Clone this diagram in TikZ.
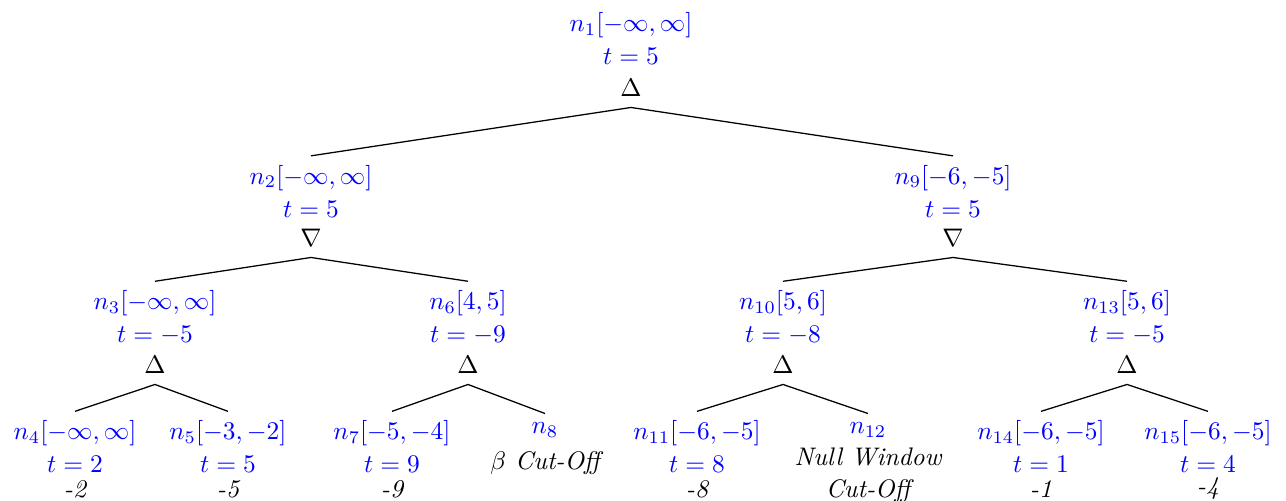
\documentclass[tikz,border=0pt]{standalone}
\usetikzlibrary{positioning}

\begin{document}
\begin{tikzpicture}[
  x=0.3935pt, y=-0.3935pt,
  lbl/.style={text=blue, align=center, font={\fontsize{10}{13}\selectfont}},
  sym/.style={inner sep=4pt, font=\normalsize},
  val/.style={align=center, font={\fontsize{10}{12.5}\selectfont\itshape}},
  line width=0.5pt
]
  \useasboundingbox (0,0) rectangle (1286,501);

  % root
  \node[lbl] (n1) at (631,38.5) {$n_1[-\infty,\infty]$\\$t=5$};
  \node[sym] (s1) at (631,88) {$\Delta$};

  % level 1
  \node[lbl] (n2) at (311,191) {$n_2[-\infty,\infty]$\\$t=5$};
  \node[sym] (s2) at (311,238) {$\nabla$};
  \node[lbl] (n9) at (953,191) {$n_9[-6,-5]$\\$t=5$};
  \node[sym] (s9) at (953,238) {$\nabla$};

  % level 2
  \node[lbl] (n3)  at (155,317.5)  {$n_3[-\infty,\infty]$\\$t=-5$};
  \node[sym] (s3)  at (155,365)    {$\Delta$};
  \node[lbl] (n6)  at (468,317.5)  {$n_6[4,5]$\\$t=-9$};
  \node[sym] (s6)  at (468,365)    {$\Delta$};
  \node[lbl] (n10) at (783,317.5)  {$n_{10}[5,6]$\\$t=-8$};
  \node[sym] (s10) at (783,365)    {$\Delta$};
  \node[lbl] (n13) at (1127,317.5) {$n_{13}[5,6]$\\$t=-5$};
  \node[sym] (s13) at (1127,365)   {$\Delta$};

  % leaves
  \node[lbl] (n4)  at (75,446.5)   {$n_4[-\infty,\infty]$\\$t=2$};
  \node[val] (v4)  at (75,489)     {-2};
  \node[lbl] (n5)  at (228,446.5)  {$n_5[-3,-2]$\\$t=5$};
  \node[val] (v5)  at (228,489)    {-5};
  \node[lbl] (n7)  at (392,446.5)  {$n_7[-5,-4]$\\$t=9$};
  \node[val] (v7)  at (392,489)    {-9};
  \node[lbl] (n8)  at (545,430)    {$n_8$};
  \node[val] (v8)  at (545,463)    {$\beta$ Cut-Off};
  \node[lbl] (n11) at (697,446.5)  {$n_{11}[-6,-5]$\\$t=8$};
  \node[val] (v11) at (697,489)    {-8};
  \node[lbl] (n12) at (868,430)    {$n_{12}$};
  \node[val] (v12) at (868,475)    {Null Window\\Cut-Off};
  \node[lbl] (n14) at (1041,446.5) {$n_{14}[-6,-5]$\\$t=1$};
  \node[val] (v14) at (1041,489)   {-1};
  \node[lbl] (n15) at (1208,446.5) {$n_{15}[-6,-5]$\\$t=4$};
  \node[val] (v15) at (1208,489)   {-4};

  % edges
  \draw (n2.north) -- (s1.south) -- (n9.north);
  \draw (n3.north) -- (s2.south) -- (n6.north);
  \draw (n10.north) -- (s9.south) -- (n13.north);
  \draw (n4.north) -- (s3.south) -- (n5.north);
  \draw (n7.north) -- (s6.south) -- (n8.north);
  \draw (n11.north) -- (s10.south) -- (n12.north);
  \draw (n14.north) -- (s13.south) -- (n15.north);
\end{tikzpicture}
\end{document}
